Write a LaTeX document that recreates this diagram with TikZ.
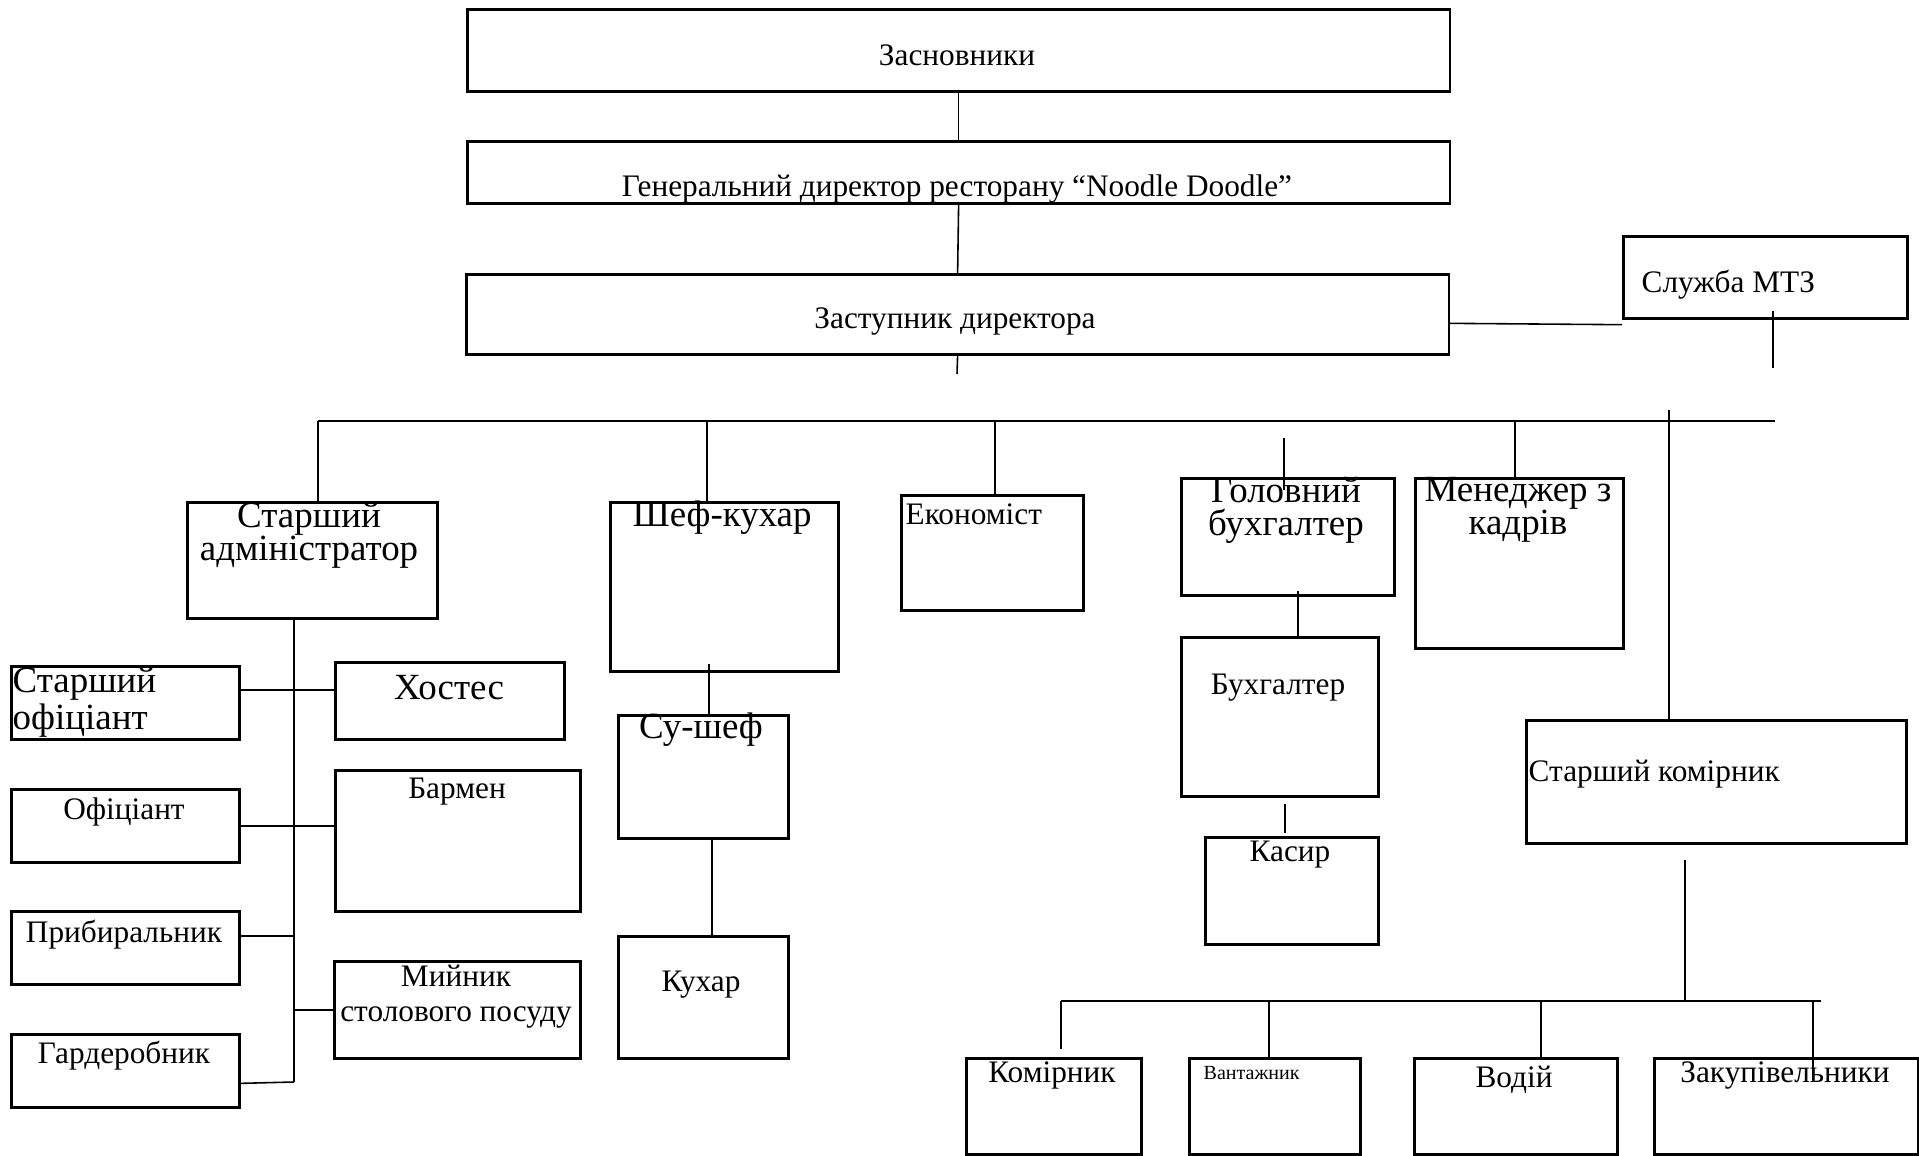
\documentclass[tikz,border=0pt]{standalone}
\usepackage{fontspec}
\setmainfont{Liberation Serif}
\begin{document}
\begin{tikzpicture}[x=0.01cm,y=-0.01cm,
    box/.style={draw,line width=0.75pt,inner sep=0pt,anchor=north west},
    txt/.style={font=\fontsize{8.9}{10}\selectfont,inner sep=0pt,align=center},
    big/.style={font=\fontsize{10.5}{9.4}\selectfont,inner sep=0pt,align=center},
    tiny/.style={font=\fontsize{5.7}{6.5}\selectfont,inner sep=0pt},
    link/.style={line width=0.45pt},
    bus/.style={line width=0.6pt}]
\fill[white] (0,0) rectangle (1919,1155);
\useasboundingbox (0,0) rectangle (1919,1155);
% top of the chart
\node[box,minimum width=9.82cm,minimum height=0.82cm] (zasn) at (466,8) {};
\node[txt] (zasn-t) at (957,55) {Засновники};
\node[box,minimum width=9.82cm,minimum height=0.62cm] (gendir) at (466,140) {};
\node[txt,anchor=base] (gendir-t) at (957,197) {Генеральний директор ресторану “Noodle Doodle”};
\node[box,minimum width=9.82cm,minimum height=0.80cm] (zast) at (465,273) {};
\node[txt] (zast-t) at (955,322) {Заступник директора};
\node[box,minimum width=2.84cm,minimum height=0.82cm] (mtz) at (1622,235) {};
\node[txt,anchor=west] (mtz-t) at (1641,285) {Служба МТЗ};
% second level
\node[box,minimum width=2.50cm,minimum height=1.16cm] (stadm) at (186,501) {};
\node[big] (stadm-t) at (309,535) {Старший\\адміністратор};
\node[box,minimum width=2.28cm,minimum height=1.69cm] (shef) at (609,501) {};
\node[big] (shef-t) at (722,518) {Шеф-кухар};
\node[box,minimum width=1.82cm,minimum height=1.15cm] (econ) at (900,494) {};
\node[txt,anchor=west] (econ-t) at (905,514) {Економіст};
\node[box,minimum width=2.13cm,minimum height=1.17cm] (gbuh) at (1180,477) {};
\node[big] (gbuh-t) at (1286,510) {Головний\\бухгалтер};
\node[box,minimum width=2.08cm,minimum height=1.70cm] (kadry) at (1414,477) {};
\node[big] (kadry-t) at (1518,510) {Менеджер з\\кадрів};
% hall staff
\node[box,minimum width=2.28cm,minimum height=0.73cm] (stofits) at (10,665) {};
\node[big,align=left,anchor=west] (stofits-t) at (12,702) {Старший\\офіціант};
\node[box,minimum width=2.29cm,minimum height=0.77cm] (hostes) at (334,661) {};
\node[big] (hostes-t) at (449,688) {Хостес};
\node[box,minimum width=2.28cm,minimum height=0.73cm] (ofits) at (10,788) {};
\node[txt] (ofits-t) at (124,812) {Офіціант};
\node[box,minimum width=2.45cm,minimum height=1.41cm] (barmen) at (334,769) {};
\node[txt] (barmen-t) at (457,792) {Бармен};
\node[box,minimum width=2.28cm,minimum height=0.73cm] (prybyr) at (10,910) {};
\node[txt] (prybyr-t) at (124,935) {Прибиральник};
\node[box,minimum width=2.46cm,minimum height=0.97cm] (miyn) at (333,960) {};
\node[txt,font=\fontsize{8.9}{10}\selectfont] (miyn-t) at (456,997) {Мийник\\столового посуду};
\node[box,minimum width=2.28cm,minimum height=0.73cm] (garder) at (10,1033) {};
\node[txt] (garder-t) at (124,1056) {Гардеробник};
% kitchen
\node[box,minimum width=1.70cm,minimum height=1.23cm] (sushef) at (617,714) {};
\node[big] (sushef-t) at (701,730) {Су-шеф};
\node[box,minimum width=1.70cm,minimum height=1.22cm] (kuhar) at (617,935) {};
\node[txt] (kuhar-t) at (701,985) {Кухар};
% accounts
\node[box,minimum width=1.97cm,minimum height=1.59cm] (buh) at (1180,636) {};
\node[txt] (buh-t) at (1278,688) {Бухгалтер};
\node[box,minimum width=1.73cm,minimum height=1.07cm] (kasyr) at (1204,836) {};
\node[txt] (kasyr-t) at (1290,855) {Касир};
% stores
\node[box,minimum width=3.80cm,minimum height=1.23cm] (stkom) at (1525,719) {};
\node[txt,anchor=west] (stkom-t) at (1528,774) {Старший комірник};
\node[box,minimum width=1.75cm,minimum height=0.96cm] (komir) at (965,1057) {};
\node[txt] (komir-t) at (1052,1075) {Комірник};
\node[box,minimum width=1.71cm,minimum height=0.96cm] (vantazh) at (1188,1057) {};
\node[tiny,anchor=west] (vantazh-t) at (1203,1073) {Вантажник};
\node[box,minimum width=2.03cm,minimum height=0.96cm] (vodiy) at (1413,1057) {};
\node[txt] (vodiy-t) at (1514,1080) {Водій};
\node[box,minimum width=2.64cm,minimum height=0.96cm] (zakup) at (1653,1057) {};
\node[txt] (zakup-t) at (1785,1075) {Закупівельники};
% free ends
\coordinate (zstub) at (957,374);
\coordinate (mtzin) at (1773,311);
\coordinate (mtzend) at (1773,368);
\coordinate (busL) at (318,421);
\coordinate (busR) at (1775,421);
\coordinate (bshef) at (707,421);
\coordinate (becon) at (995,421);
\coordinate (gtop) at (1284,438);
\coordinate (gbot) at (1284,490);
\coordinate (bkadry) at (1515,421);
\coordinate (bkom) at (1669,410);
\coordinate (spT) at (294,617);
\coordinate (spB) at (294,1082);
\coordinate (sh1) at (709,664);
\coordinate (sh2) at (712,837);
\coordinate (gb1) at (1298,591);
\coordinate (kb1) at (1285,804);
\coordinate (kb2) at (1285,833);
\coordinate (sk1) at (1685,860);
\coordinate (lbL) at (1061,1001);
\coordinate (lbR) at (1821,1001);
\coordinate (kstub) at (1061,1049);
\coordinate (bvant) at (1269,1001);
\coordinate (bvod) at (1541,1001);
\coordinate (bzak) at (1813,1001);
\coordinate (zakin) at (1813,1080);
% connectors
\draw[link] (zasn.south) -- (gendir.north);
\draw[link] (gendir.south) -- (zast.north);
\draw[link] (zast.south) -- (zstub);
\draw[link] ([yshift=-0.09cm]zast.east) -- ([yshift=-0.05cm]mtz.south west);
\draw[link] (mtzin) -- (mtzend);
\draw[bus] (busL) -- (busR);
\draw[link] (busL) -- (busL |- stadm.north);
\draw[link] (bshef) -- (bshef |- shef.north);
\draw[link] (becon) -- (becon |- econ.north);
\draw[link] (gtop) -- (gbot);
\draw[link] (bkadry) -- (bkadry |- kadry.north);
\draw[link] (bkom) -- (bkom |- stkom.north);
\draw[link] (spT) -- (spB);
\draw[link] ([yshift=0.11cm]hostes.west) -- ([yshift=0.11cm]hostes.west -| stofits.east);
\draw[link] (ofits.east) -- (ofits.east -| barmen.west);
\draw[link] ([yshift=0.12cm]prybyr.east) -- ([yshift=0.12cm]prybyr.east -| spB);
\draw[link] (miyn.west) -- (miyn.west -| spB);
\draw[link] ([yshift=-0.125cm]garder.east) -- (spB);
\draw[link] (sh1) -- (sh1 |- sushef.north);
\draw[link] (sh2) -- (sh2 |- kuhar.north);
\draw[link] (gb1) -- (gb1 |- buh.north);
\draw[link] (kb1) -- (kb2);
\draw[link] (sk1) -- (sk1 |- lbL);
\draw[bus] (lbL) -- (lbR);
\draw[link] (lbL) -- (kstub);
\draw[link] (bvant) -- (bvant |- vantazh.north);
\draw[link] (bvod) -- (bvod |- vodiy.north);
\draw[link] (bzak) -- (zakin);
\end{tikzpicture}
\end{document}
